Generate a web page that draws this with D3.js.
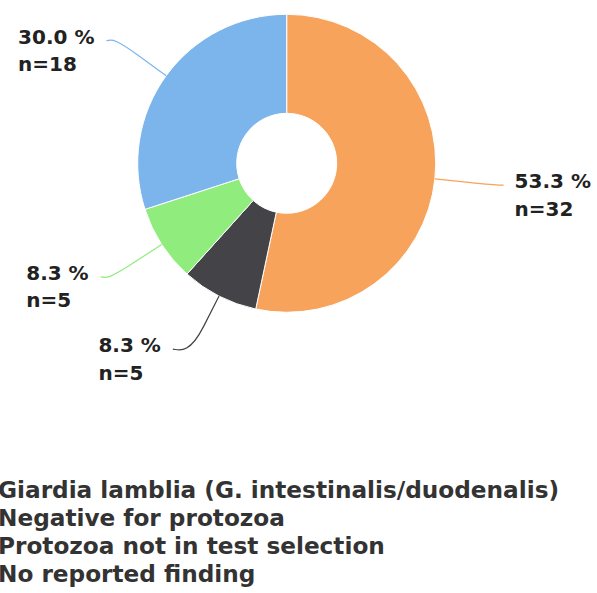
<!DOCTYPE html>
<html>
<head>
<meta charset="utf-8">
<script src="https://cdn.jsdelivr.net/npm/d3@7"></script>
<style>
  body { margin: 0; background: #fff; }
  svg { display: block; font-family: "DejaVu Sans", sans-serif; font-weight: bold; }
</style>
</head>
<body>
<div id="chart"></div>
<script>
// Data
const categories = [
    'Giardia lamblia (G. intestinalis/duodenalis)',
    'Negative for protozoa',
    'Protozoa not in test selection',
    'No reported finding'
];
const counts = [32, 5, 5, 18];
const colors = ['#f7a35c', '#434348', '#90ed7d', '#7cb5ec'];

const width = 597;
const height = 593;
const cx = 286.7;
const cy = 163.3;
const radius = 149;
const innerRadius = 50;
const labelRadius = 218;
const labelSquash = 0.957; // labels are pulled a little toward the horizontal
const breakRadius = 183;

const total = d3.sum(counts);
const data = categories.map((name, i) => ({ name: name, value: counts[i], color: colors[i] }));

const svg = d3.select('#chart')
    .append('svg')
    .attr('width', width)
    .attr('height', height);

const g = svg.append('g')
    .attr('transform', `translate(${cx},${cy})`);

const pie = d3.pie()
    .sort(null)
    .value(d => d.value);

const arcs = pie(data);

const arc = d3.arc()
    .innerRadius(innerRadius)
    .outerRadius(radius);

g.selectAll('path.slice')
    .data(arcs)
    .enter()
    .append('path')
    .attr('class', 'slice')
    .attr('d', arc)
    .attr('fill', d => d.data.color)
    .attr('stroke', '#fff')
    .attr('stroke-width', 1)
    .attr('stroke-linejoin', 'round');

// point on a circle of radius r at the slice's mid angle (0 = top, clockwise)
function polar(d, r) {
    const a = (d.startAngle + d.endAngle) / 2;
    return { x: r * Math.sin(a), y: -r * Math.cos(a), right: Math.sin(a) >= 0 };
}

// where the label's connector ends: y squashed, x back on the label circle
function labelPos(d) {
    const p = polar(d, labelRadius);
    const y = p.y * labelSquash;
    const x = Math.sqrt(labelRadius * labelRadius - y * y) * (p.right ? 1 : -1);
    return { x: x, y: y, right: p.right };
}

// Connectors, drawn like the soft "fixedOffset" shape
g.selectAll('path.connector')
    .data(arcs)
    .enter()
    .append('path')
    .attr('class', 'connector')
    .attr('fill', 'none')
    .attr('stroke', d => d.data.color)
    .attr('stroke-width', 1.2)
    .attr('d', d => {
        const lab = labelPos(d);
        const brk = polar(d, breakRadius);
        const touch = polar(d, radius);
        const p = d3.path();
        p.moveTo(lab.x, lab.y);
        p.bezierCurveTo(lab.x + (lab.right ? -5 : 5), lab.y,
            2 * brk.x - touch.x, 2 * brk.y - touch.y, brk.x, brk.y);
        p.lineTo(touch.x, touch.y);
        return p.toString();
    });

// Data labels
const labels = g.selectAll('text.label')
    .data(arcs)
    .enter()
    .append('text')
    .attr('class', 'label')
    .attr('font-size', 20)
    .attr('fill', '#222');

labels.each(function(d) {
    const t = d3.select(this);
    const pos = labelPos(d);
    t.append('tspan')
        .attr('x', 0)
        .attr('y', pos.y + 3)
        .text((d.data.value / total * 100).toFixed(1) + ' %');
    t.append('tspan')
        .attr('x', 0)
        .attr('y', pos.y + 30.5)
        .text('n=' + d.data.value);
    const w = this.getBBox().width;
    const x = pos.right ? pos.x + 11 : pos.x - 12 - w;
    t.selectAll('tspan').attr('x', x);
});

// Legend (symbols sit just left of the visible area)
const legend = svg.append('g')
    .selectAll('g')
    .data(data)
    .enter()
    .append('g')
    .attr('transform', (d, i) => `translate(-2,${498 + i * 28})`);

legend.append('rect')
    .attr('x', -26)
    .attr('y', -16)
    .attr('width', 16)
    .attr('height', 16)
    .attr('rx', 8)
    .attr('fill', d => d.color);

legend.append('text')
    .attr('font-size', 23.2)
    .attr('fill', '#333')
    .text(d => d.name);
</script>
</body>
</html>
